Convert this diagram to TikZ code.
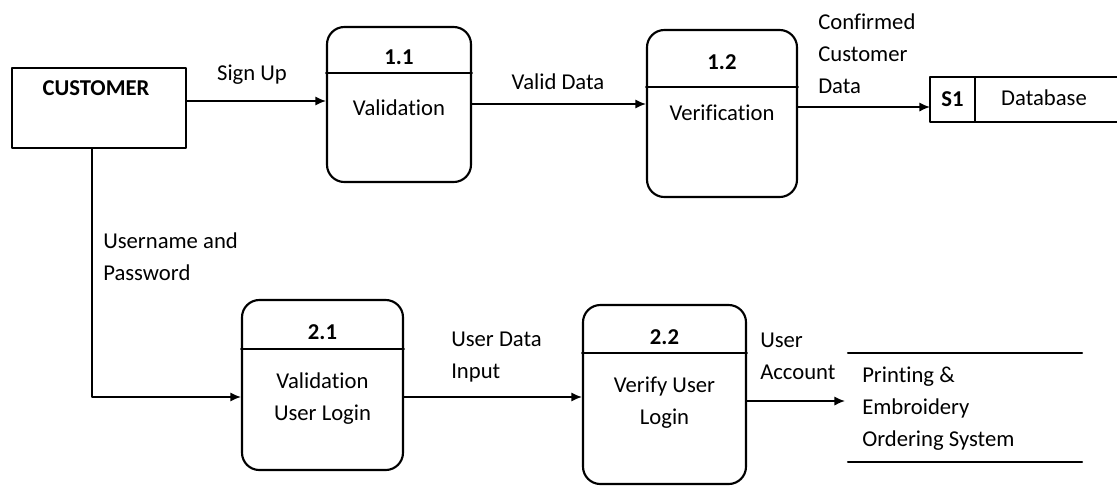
\documentclass[tikz,border=0pt]{standalone}
\usepackage{fontspec}
\setmainfont{Carlito}[Ligatures=NoCommon]
\usetikzlibrary{arrows.meta}

\begin{document}
\begin{tikzpicture}[x=0.75pt,y=-0.75pt,line cap=round,line join=round,every node/.style={inner sep=0pt},
  font=\fontsize{17}{24}\selectfont,
  proc/.style={draw,line width=1.6pt,rounded corners=13pt},
  flow/.style={line width=1.2pt,-{Latex[length=8pt,width=7pt]}},
  lbl/.style={align=left,anchor=west}]
  \useasboundingbox (0,0) rectangle (1117,487);
  % 外部实体
  \node[draw,line width=1.6pt,minimum width=130.5pt,minimum height=60pt] (cust) at (99,108) {};
  \node (custtxt) at (96,88) {\bfseries CUSTOMER};
  % 处理 1.1
  \node[proc,minimum width=108pt,minimum height=116.25pt] (p11) at (399,104.5) {};
  \draw[line width=1.2pt] (p11.west |- 0,73) -- (p11.east |- 0,73);
  \node (n11) at (p11 |- 0,57) {\bfseries 1.1};
  \node (t11) at (p11 |- 0,108) {Validation};
  % 处理 1.2
  \node[proc,minimum width=112.5pt,minimum height=125.25pt] (p12) at (722,113.5) {};
  \draw[line width=1.2pt] (p12.west |- 0,87) -- (p12.east |- 0,87);
  \node (n12) at (p12 |- 0,62) {\bfseries 1.2};
  \node (t12) at (p12 |- 0,113) {Verification};
  % 处理 2.1
  \node[proc,minimum width=120.75pt,minimum height=127.5pt] (p21) at (322.5,385) {};
  \draw[line width=1.2pt] (p21.west |- 0,349) -- (p21.east |- 0,349);
  \node (n21) at (p21 |- 0,332) {\bfseries 2.1};
  \node[align=center] (t21) at (p21 |- 0,399) {Validation\\User Login};
  % 处理 2.2
  \node[proc,minimum width=122.25pt,minimum height=134.25pt] (p22) at (664.5,394.5) {};
  \draw[line width=1.2pt] (p22.west |- 0,353) -- (p22.east |- 0,353);
  \node (n22) at (p22 |- 0,337) {\bfseries 2.2};
  \node[align=center] (t22) at (p22 |- 0,402.5) {Verify User\\Login};
  % 数据存储 S1
  \node[draw,line width=1.4pt,outer sep=0pt,minimum width=33.75pt,minimum height=33.75pt] (s1) at (952.5,99.5) {\bfseries S1};
  \draw[line width=1.4pt] (s1.north east) -- (s1.north east -| 1117,0);
  \draw[line width=1.4pt] (s1.south east) -- (s1.south east -| 1117,0);
  \node (db) at (1044,98) {Database};
  % 系统（两条横线）
  \draw[line width=1.6pt] (848,353) -- (1082,353);
  \draw[line width=1.6pt] (848,462) -- (1082,462);
  \node[lbl] (sys) at (862,408.5) {Printing \&\\Embroidery\\Ordering System};
  % 数据流
  \draw[flow] (cust.east |- 0,101) -- (p11.west |- 0,101);
  \node (lsign) at (252,75) {Sign Up};
  \draw[flow] (p11.east |- 0,104) -- (p12.west |- 0,104);
  \node (lvalid) at (558,82) {Valid Data};
  \draw[flow] (p12.east |- 0,107) -- (s1.west |- 0,107);
  \node[lbl] (lconf) at (818,53.5) {Confirmed\\Customer\\Data};
  \draw[flow] (cust.south -| 92,0) |- (p21.west |- 0,397);
  \node[lbl] (luser) at (103,256.5) {Username and\\Password};
  \draw[flow] (p21.east |- 0,397) -- (p22.west |- 0,397);
  \node[lbl] (linput) at (451,357.5) {User Data\\Input};
  \coordinate (sysin) at (845,401);
  \draw[flow] (p22.east |- sysin) -- (sysin);
  \node[lbl] (lacc) at (760,356) {User\\Account};
\end{tikzpicture}
\end{document}
